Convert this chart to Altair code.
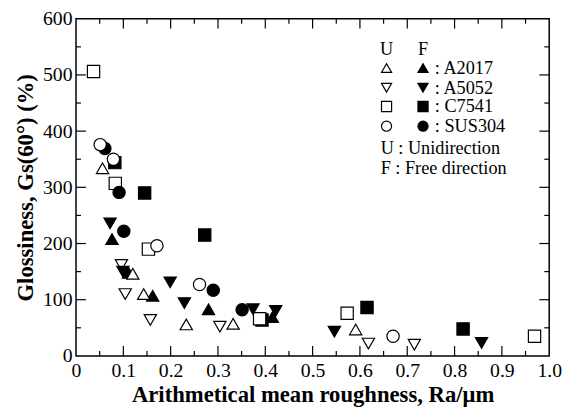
import altair as alt
import pandas as pd

# ---- data (Ra in um, Gs(60) in %) ----
materials = ["A2017", "A5052", "C7541", "SUS304"]
shapes = ["triangle-up", "triangle-down", "square", "circle"]

A2017_U_x = [0.056, 0.120, 0.143, 0.233, 0.332, 0.591]
A2017_U_y = [334, 146, 110, 56, 57, 47]
A5052_U_x = [0.096, 0.104, 0.157, 0.304, 0.618, 0.715]
A5052_U_y = [162, 110, 64, 52, 22, 20]
C7541_U_x = [0.037, 0.083, 0.153, 0.388, 0.573, 0.969]
C7541_U_y = [506, 307, 190, 66, 76, 35]
SUS304_U_x = [0.051, 0.079, 0.171, 0.261, 0.670]
SUS304_U_y = [376, 350, 196, 127, 35]

A2017_F_x = [0.076, 0.111, 0.162, 0.280, 0.415]
A2017_F_y = [208, 148, 107, 83, 69]
A5052_F_x = [0.072, 0.099, 0.199, 0.229, 0.374, 0.422, 0.546, 0.857]
A5052_F_y = [236, 150, 131, 94, 83, 80, 43, 23]
C7541_F_x = [0.082, 0.145, 0.272, 0.393, 0.615, 0.818]
C7541_F_y = [344, 290, 215, 64, 86, 48]
SUS304_F_x = [0.061, 0.091, 0.101, 0.290, 0.351]
SUS304_F_y = [369, 291, 222, 117, 82]

x_major = [0.0, 0.1, 0.2, 0.3, 0.4, 0.5, 0.6, 0.7, 0.8, 0.9, 1.0]
x_minor = [0.05, 0.15, 0.25, 0.35, 0.45, 0.55, 0.65, 0.75, 0.85, 0.95]
y_major = [0, 100, 200, 300, 400, 500, 600]
y_minor = [50, 150, 250, 350, 450, 550]

legend_labels = [": A2017", ": A5052", ": C7541", ": SUS304"]

# ---- build table (drawing order) ----
series = [
    ("C7541", "F", C7541_F_x, C7541_F_y),
    ("C7541", "U", C7541_U_x, C7541_U_y),
    ("A5052", "U", A5052_U_x, A5052_U_y),
    ("A5052", "F", A5052_F_x, A5052_F_y),
    ("A2017", "F", A2017_F_x, A2017_F_y),
    ("A2017", "U", A2017_U_x, A2017_U_y),
    ("SUS304", "F", SUS304_F_x, SUS304_F_y),
    ("SUS304", "U", SUS304_U_x, SUS304_U_y),
]
rows = []
for mat, d, xs, ys in series:
    for xv, yv in zip(xs, ys):
        rows.append({"x": xv, "y": yv, "mat": mat, "dir": d})
df = pd.DataFrame(rows)

W, H = 480, 342
FONT = "Liberation Serif"
xscale = alt.Scale(domain=[0, 1], nice=False, zero=False)
yscale = alt.Scale(domain=[0, 600], nice=False, zero=False)

xaxis = alt.Axis(values=x_major, ticks=False, grid=False, domain=False,
                 labelExpr="datum.value == 0 ? '0' : format(datum.value, '.1f')",
                 labelFont=FONT, labelFontSize=20, labelColor="black",
                 labelPadding=5, labelFlush=False,
                 title="Arithmetical mean roughness, Ra/\u03bcm",
                 titleFont=FONT, titleFontSize=23, titleFontWeight="bold",
                 titleColor="black", titlePadding=3)
yaxis = alt.Axis(values=y_major, ticks=False, grid=False, domain=False,
                 format="d", labelFont=FONT, labelFontSize=20,
                 labelColor="black", labelPadding=4, labelFlush=False,
                 title="Glossiness, Gs(60\u00b0)  (%)",
                 titleFont=FONT, titleFontSize=23, titleFontWeight="bold",
                 titleColor="black", titlePadding=5)

points = alt.Chart(df).mark_point(
    filled=True, stroke="black", strokeWidth=1.2, size=155, opacity=1
).encode(
    x=alt.X("x:Q", scale=xscale, axis=xaxis),
    y=alt.Y("y:Q", scale=yscale, axis=yaxis),
    shape=alt.Shape("mat:N", scale=alt.Scale(domain=materials, range=shapes), legend=None),
    fill=alt.Fill("dir:N", scale=alt.Scale(domain=["U", "F"], range=["white", "black"]), legend=None),
)

layers = [points]

def xticks(vals, length):
    d = pd.DataFrame({"x": vals})
    bottom = alt.Chart(d).mark_rule(color="black", strokeWidth=1.2).encode(
        x=alt.X("x:Q", scale=xscale, axis=xaxis), y=alt.value(H), y2=alt.value(H - length))
    top = alt.Chart(d).mark_rule(color="black", strokeWidth=1.2).encode(
        x=alt.X("x:Q", scale=xscale, axis=xaxis), y=alt.value(0), y2=alt.value(length))
    return [bottom, top]

def yticks(vals, length):
    d = pd.DataFrame({"y": vals})
    left = alt.Chart(d).mark_rule(color="black", strokeWidth=1.2).encode(
        y=alt.Y("y:Q", scale=yscale, axis=yaxis), x=alt.value(0), x2=alt.value(length))
    right = alt.Chart(d).mark_rule(color="black", strokeWidth=1.2).encode(
        y=alt.Y("y:Q", scale=yscale, axis=yaxis), x=alt.value(W), x2=alt.value(W - length))
    return [left, right]

layers += xticks(x_major[1:-1], 10) + xticks(x_minor, 5)
layers += yticks(y_major[1:-1], 10) + yticks(y_minor, 5)

# ---- custom legend ----
leg_U_x, leg_F_x, leg_lab_x = 315, 352, 364
leg_head_y = 31
leg_rows_y = [50, 70, 89, 109]

def txt(t, x, y, align="left"):
    return alt.Chart(pd.DataFrame({"t": [t]})).mark_text(
        align=align, baseline="middle", font=FONT, fontSize=18.5, color="black"
    ).encode(text="t:N", x=alt.value(x), y=alt.value(y))

layers.append(txt("U", leg_U_x, leg_head_y, "center"))
layers.append(txt("F", leg_F_x, leg_head_y, "center"))
for shp, lab, ry in zip(shapes, legend_labels, leg_rows_y):
    for fx, col in [(leg_U_x, "white"), (leg_F_x, "black")]:
        layers.append(
            alt.Chart(pd.DataFrame({"s": [shp]})).mark_point(
                shape=shp, filled=True, fill=col, stroke="black", strokeWidth=1.2,
                size=105, opacity=1
            ).encode(x=alt.value(fx), y=alt.value(ry))
        )
    layers.append(txt(lab, leg_lab_x, ry))
layers.append(txt("U : Unidirection", 309, 131))
layers.append(txt("F : Free direction", 309, 151))

chart = alt.layer(*layers).properties(
    width=W, height=H,
    autosize=alt.AutoSizeParams(type="none"),
    padding={"left": 69, "top": 8, "right": 14, "bottom": 54},
).configure(
    background="white",
    style={"guide-label": {"font": FONT, "fill": "black"},
           "guide-title": {"font": FONT, "fill": "black"}},
).configure_view(
    stroke="black", strokeWidth=1.5
).configure_axis(labelFont=FONT, titleFont=FONT)

chart.save("out.html", embed_options={"renderer": "svg", "actions": False})
